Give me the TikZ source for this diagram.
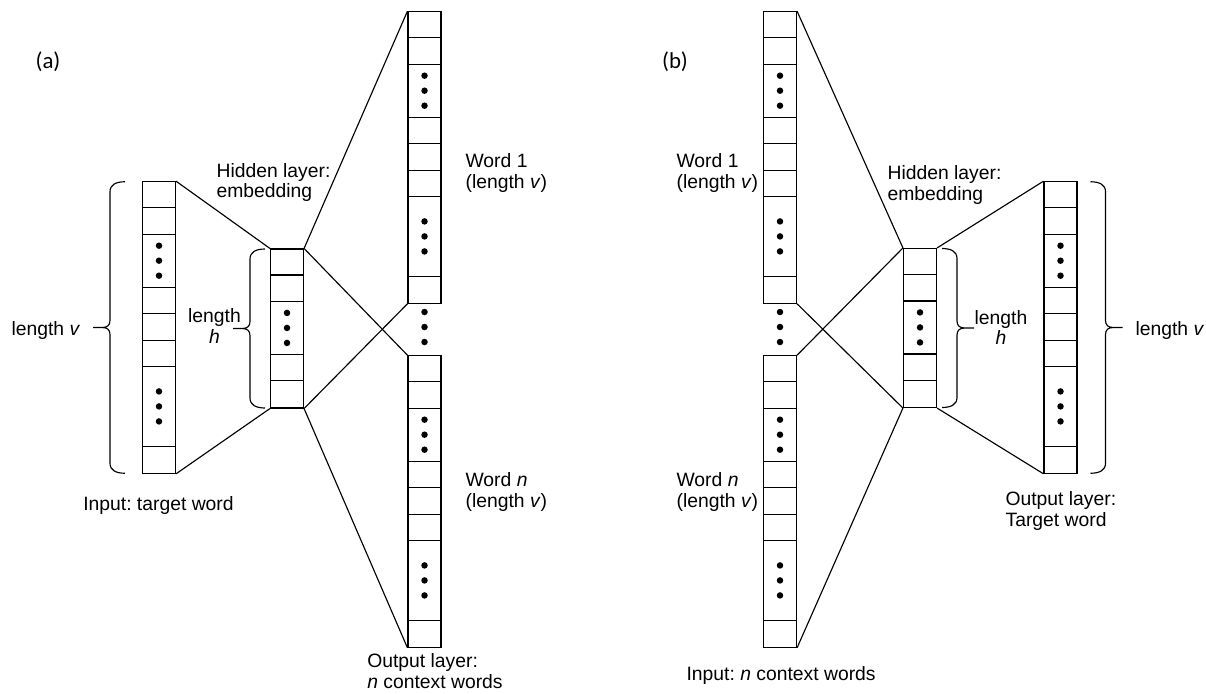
\documentclass[tikz,border=0pt]{standalone}
\usepackage{fontspec}
\setmainfont{Liberation Sans}
\newfontfamily\panelfont{Carlito}
\frenchspacing

\begin{document}
\begin{tikzpicture}[x=0.02cm,y=-0.02cm,line width=0.65pt,draw=black!100]
	\def \cellht{0.53cm}
	\def \gapy{327}
	\tikzstyle{w-col}=[rectangle,draw=black!100,inner sep=0pt,minimum width=0.66cm,minimum height=11*\cellht]
	\tikzstyle{h-col}=[rectangle,draw=black!100,inner sep=0pt,minimum width=0.66cm,minimum height=6*\cellht]
	\tikzstyle{note}=[font=\fontsize{11}{11.7}\selectfont,align=left,anchor=west,inner sep=0pt]
	\tikzstyle{mid-note}=[note,anchor=center,align=center]
	% dividers and dots of one column
	\def\wordcells#1{
		\foreach \k in {1,2,4,5,6,7,10}
			\draw ([yshift=-\k*\cellht]#1.north west) -- ([yshift=-\k*\cellht]#1.north east);
		\foreach \d in {-15,0,15} {
			\fill ([yshift=\d*0.02cm-3*\cellht]#1.north) circle (0.065cm);
			\fill ([yshift=\d*0.02cm-8.5*\cellht]#1.north) circle (0.065cm);
		}
	}
	\def\hidcells#1{
		\foreach \k in {1,2,4,5}
			\draw ([yshift=-\k*\cellht]#1.north west) -- ([yshift=-\k*\cellht]#1.north east);
		\foreach \d in {-15,0,15}
			\fill ([yshift=\d*0.02cm-3*\cellht]#1.north) circle (0.065cm);
	}
	% curly brace: arm x, top y, bottom y, side (-1 left, 1 right)
	\def\curly#1#2#3#4{
		\draw ({#1},{#2}) .. controls ({#1+(#4)*9},{#2}) and ({#1+(#4)*15},{#2+3}) .. ({#1+(#4)*15},{#2+10})
			-- ({#1+(#4)*15},{(#2+#3)/2-7}) .. controls ({#1+(#4)*15},{(#2+#3)/2-2}) and ({#1+(#4)*18},{(#2+#3)/2}) .. ({#1+(#4)*23},{(#2+#3)/2})
			-- ({#1+(#4)*32},{(#2+#3)/2})
			({#1+(#4)*23},{(#2+#3)/2}) .. controls ({#1+(#4)*18},{(#2+#3)/2}) and ({#1+(#4)*15},{(#2+#3)/2+2}) .. ({#1+(#4)*15},{(#2+#3)/2+7})
			-- ({#1+(#4)*15},{#3-10}) .. controls ({#1+(#4)*15},{#3-3}) and ({#1+(#4)*9},{#3}) .. ({#1},{#3});
	}

	\useasboundingbox (0,0) rectangle (1206,693);

	% panel labels
	\node[font={\panelfont\fontsize{13}{15}\selectfont}] (lab-a) at (48,62) {(a)};
	\node[font={\panelfont\fontsize{13}{15}\selectfont}] (lab-b) at (675,62) {(b)};

	% (a) layers
	\node[w-col] 	(in-a)	at (159,327.5)		{};
	\node[h-col] 	(hid-a)	at (287,328.5)		{};
	\node[w-col] 	(w1-a)	at (424.5,157.5)	{};
	\node[w-col] 	(wn-a)	at (424.5,501.5)	{};
	\wordcells{in-a}
	\hidcells{hid-a}
	\wordcells{w1-a}
	\wordcells{wn-a}
	\foreach \d in {-15,0,15} \fill (424.5,\gapy+\d) circle (0.065cm);

	% (b) layers
	\node[w-col] 	(w1-b)	at (780,157.5)		{};
	\node[w-col] 	(wn-b)	at (780,501.5)		{};
	\node[h-col] 	(hid-b)	at (920,328)		{};
	\node[w-col] 	(out-b)	at (1060.5,327.5)	{};
	\wordcells{w1-b}
	\wordcells{wn-b}
	\hidcells{hid-b}
	\wordcells{out-b}
	\foreach \d in {-15,0,15} \fill (780,\gapy+\d) circle (0.065cm);

	% connections
	\path (in-a.north east)	edge	(hid-a.north west)
		(in-a.south east)	edge	(hid-a.south west)
		(hid-a.north east)	edge	(w1-a.north west)
		(hid-a.north east)	edge	(wn-a.north west)
		(hid-a.south east)	edge	(w1-a.south west)
		(hid-a.south east)	edge	(wn-a.south west);
	\path (w1-b.north east)	edge	(hid-b.north west)
		(w1-b.south east)	edge	(hid-b.south west)
		(wn-b.north east)	edge	(hid-b.north west)
		(wn-b.south east)	edge	(hid-b.south west)
		(hid-b.north east)	edge	(out-b.north west)
		(hid-b.south east)	edge	(out-b.south west);

	% braces
	\curly{125}{181.75}{473.25}{-1}
	\curly{265}{249}{408}{-1}
	\curly{942}{248.5}{407.5}{1}
	\curly{1090.5}{181.75}{473.25}{1}

	% labels (a)
	\node[note] 	(len-v-a)	at (11,330)		{length \textit{v}};
	\node[mid-note] (len-h-a)	at (214.5,326)	{length\\\textit{h}};
	\node[note] 	(hid-lab-a)	at (216,182.5)	{Hidden layer:\\embedding};
	\node[note] 	(w1-lab-a)	at (465,173)	{Word 1\\(length \textit{v})};
	\node[note] 	(wn-lab-a)	at (465,492)	{Word \textit{n}\\(length \textit{v})};
	\node[note] 	(in-lab-a)	at (82.7,505)	{Input: target word};
	\node[note] 	(out-lab-a)	at (366.7,671)	{Output layer:\\\textit{n} context words};

	% labels (b)
	\node[note] 	(w1-lab-b)	at (676,173)	{Word 1\\(length \textit{v})};
	\node[note] 	(wn-lab-b)	at (676,492)	{Word \textit{n}\\(length \textit{v})};
	\node[note] 	(hid-lab-b)	at (887,185)	{Hidden layer:\\embedding};
	\node[mid-note] (len-h-b)	at (1001,327.5)	{length\\\textit{h}};
	\node[note] 	(len-v-b)	at (1135,330)	{length \textit{v}};
	\node[note] 	(out-lab-b)	at (1005,511)	{Output layer:\\Target word};
	\node[note] 	(in-lab-b)	at (686,675)	{Input: \textit{n} context words};
\end{tikzpicture}
\end{document}
